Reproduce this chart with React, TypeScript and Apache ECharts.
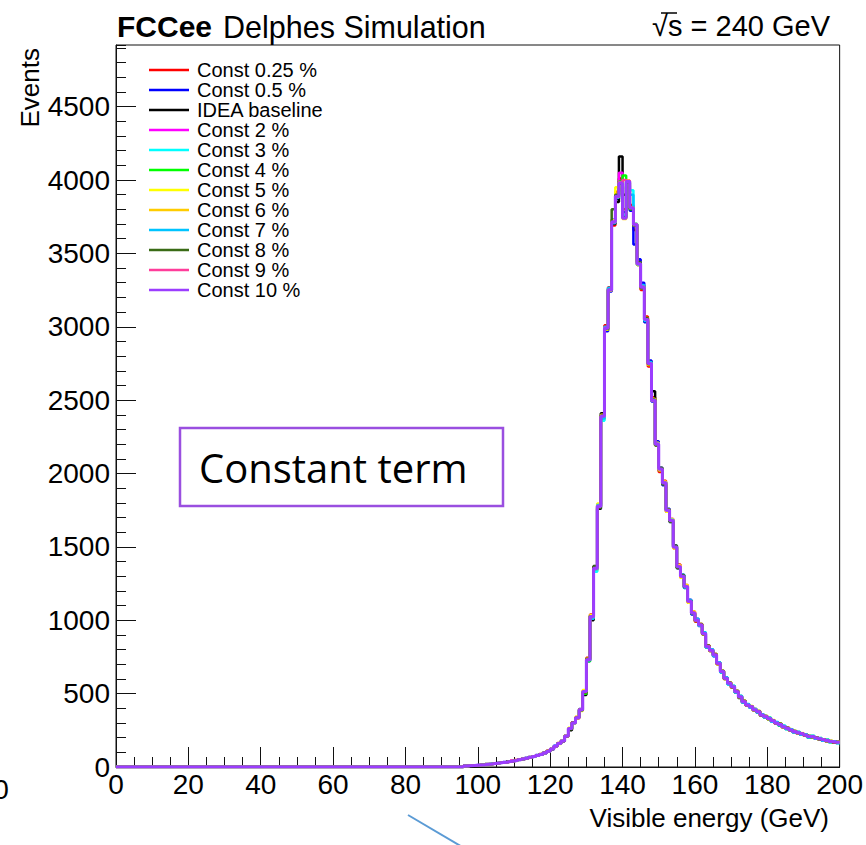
import React, { useEffect, useRef } from "react";
import * as echarts from "echarts";

// Histogram: 1 GeV bins, values listed from bin FIRST_BIN (96 GeV) to 199 GeV; bins below are empty.
const FIRST_BIN = 96;

const seriesNames = [
  "Const 0.25 %", "Const 0.5 %", "IDEA baseline", "Const 2 %", "Const 3 %", "Const 4 %",
  "Const 5 %", "Const 6 %", "Const 7 %", "Const 8 %", "Const 9 %", "Const 10 %",
];
const seriesColors = [
  "#ff0000", "#0000ff", "#000000", "#ff00ff", "#00ffff", "#00ff00",
  "#ffff00", "#ffcc00", "#00c4ff", "#3a6b16", "#ff3d9a", "#9b3dff",
];

const const025 = [
  6, 8, 11, 12, 15, 17, 18, 22, 25, 26,
  31, 34, 36, 42, 47, 49, 56, 62, 65, 74,
  80, 88, 95, 110, 125, 139, 163, 180, 208, 258,
  305, 340, 385, 520, 745, 1040, 1340, 1790, 2370, 3010,
  3270, 3690, 3920, 4010, 3800, 3960, 3830, 3660, 3450, 3250,
  3070, 2730, 2520, 2210, 2010, 1950, 1740, 1690, 1490, 1380,
  1290, 1240, 1120, 1060, 990, 975, 905, 830, 790, 770,
  700, 655, 600, 575, 540, 518, 475, 450, 420, 405,
  395, 372, 358, 340, 333, 312, 303, 287, 278, 260,
  255, 238, 236, 223, 220, 205, 210, 195, 194, 183,
  182, 172, 171, 165,
];
const const05 = [
  8, 9, 10, 13, 13, 17, 19, 20, 25, 28,
  29, 34, 38, 40, 46, 51, 54, 61, 67, 71,
  81, 85, 98, 106, 120, 144, 158, 182, 215, 255,
  298, 338, 395, 505, 720, 1030, 1360, 1760, 2400, 2970,
  3240, 3730, 3870, 3990, 3780, 3970, 3790, 3560, 3460, 3300,
  3030, 2770, 2490, 2220, 2040, 1920, 1760, 1670, 1510, 1355,
  1310, 1220, 1140, 1040, 1010, 960, 915, 815, 800, 755,
  712, 645, 610, 565, 550, 508, 482, 440, 428, 412,
  385, 380, 350, 346, 328, 318, 296, 293, 272, 266,
  250, 244, 231, 228, 215, 210, 204, 200, 190, 187,
  178, 176, 168, 170,
];
const ideaBaseline = [
  7, 10, 10, 11, 14, 15, 20, 21, 23, 28,
  30, 32, 38, 41, 44, 52, 55, 59, 68, 72,
  78, 87, 94, 109, 121, 141, 162, 176, 214, 250,
  302, 332, 392, 490, 735, 1000, 1370, 1760, 2410, 2980,
  3260, 3700, 3850, 4160, 3900, 3950, 3800, 3700, 3420, 3280,
  3040, 2760, 2560, 2190, 2020, 1940, 1755, 1675, 1505, 1360,
  1305, 1225, 1135, 1045, 995, 970, 912, 822, 792, 766,
  704, 652, 603, 572, 544, 515, 470, 447, 425, 408,
  392, 375, 356, 341, 332, 313, 298, 284, 277, 262,
  254, 239, 236, 224, 216, 204, 208, 196, 191, 183,
  181, 173, 169, 167,
];
const const2 = [
  7, 9, 11, 12, 13, 16, 18, 21, 24, 27,
  31, 33, 36, 42, 45, 50, 56, 60, 65, 73,
  80, 86, 97, 107, 123, 140, 159, 179, 211, 264,
  303, 333, 388, 518, 728, 1020, 1350, 1780, 2385, 2995,
  3255, 3720, 3900, 4050, 3750, 3980, 3815, 3690, 3440, 3265,
  3055, 2745, 2505, 2205, 2035, 1930, 1745, 1690, 1495, 1370,
  1295, 1235, 1125, 1055, 1005, 965, 908, 825, 798, 760,
  710, 648, 607, 568, 550, 511, 481, 443, 426, 408,
  392, 374, 356, 341, 332, 313, 302, 288, 277, 262,
  254, 240, 236, 224, 219, 206, 209, 197, 193, 184,
  181, 173, 171, 166,
];
const const3 = [
  7, 9, 10, 12, 14, 16, 19, 22, 24, 27,
  30, 33, 37, 41, 46, 50, 55, 61, 66, 72,
  79, 87, 96, 108, 121, 142, 161, 178, 213, 261,
  299, 336, 391, 514, 732, 1015, 1330, 1770, 2360, 2995,
  3260, 3710, 3880, 3970, 3760, 3985, 3930, 3700, 3435, 3280,
  3045, 2755, 2495, 2205, 2025, 1940, 1745, 1685, 1495, 1370,
  1300, 1230, 1125, 1050, 1005, 970, 912, 818, 797, 768,
  705, 652, 603, 573, 545, 515, 477, 448, 421, 412,
  388, 379, 352, 345, 328, 317, 298, 292, 273, 266,
  250, 243, 232, 228, 216, 209, 205, 200, 190, 187,
  178, 176, 168, 170,
];
const const4 = [
  7, 9, 10, 12, 14, 17, 19, 21, 24, 27,
  30, 33, 37, 41, 45, 50, 55, 60, 66, 72,
  79, 86, 96, 108, 122, 142, 160, 178, 212, 262,
  300, 335, 390, 500, 720, 1030, 1350, 1780, 2395, 2985,
  3255, 3720, 3895, 3990, 4030, 3980, 3800, 3690, 3440, 3275,
  3045, 2755, 2505, 2195, 2035, 1930, 1755, 1675, 1505, 1360,
  1305, 1225, 1135, 1045, 1005, 963, 915, 815, 800, 758,
  712, 645, 610, 565, 552, 508, 484, 440, 428, 405,
  395, 372, 359, 338, 335, 310, 305, 285, 280, 259,
  257, 236, 239, 221, 223, 202, 212, 193, 197, 180,
  185, 169, 175, 163,
];
const const5 = [
  7, 9, 10, 12, 14, 16, 19, 21, 24, 27,
  30, 33, 37, 41, 45, 50, 55, 60, 66, 72,
  78, 85, 97, 109, 124, 140, 157, 183, 215, 268,
  295, 342, 382, 525, 740, 1035, 1345, 1795, 2400, 2980,
  3245, 3725, 3950, 3975, 3745, 3995, 3805, 3700, 3420, 3260,
  3060, 2740, 2510, 2210, 2020, 1945, 1740, 1690, 1490, 1375,
  1290, 1240, 1120, 1060, 995, 975, 905, 825, 790, 770,
  700, 655, 600, 575, 540, 518, 475, 450, 418, 415,
  385, 382, 349, 348, 325, 320, 295, 295, 270, 269,
  247, 246, 229, 231, 213, 212, 202, 203, 187, 190,
  175, 179, 165, 173,
];
const const6 = [
  7, 9, 10, 12, 14, 16, 19, 21, 24, 27,
  30, 33, 37, 41, 45, 50, 55, 60, 66, 72,
  79, 86, 96, 108, 122, 141, 161, 177, 213, 260,
  302, 333, 393, 510, 735, 1020, 1360, 1770, 2385, 2995,
  3255, 3710, 3885, 3985, 3735, 3995, 3815, 3690, 3435, 3275,
  3045, 2755, 2495, 2195, 2035, 1930, 1755, 1675, 1505, 1360,
  1295, 1235, 1128, 1055, 998, 972, 906, 826, 792, 768,
  703, 654, 601, 574, 542, 517, 476, 449, 420, 413,
  387, 380, 351, 346, 327, 318, 297, 293, 272, 267,
  249, 244, 231, 229, 215, 210, 204, 201, 189, 188,
  177, 177, 167, 171,
];
const const7 = [
  7, 9, 10, 12, 14, 16, 19, 21, 24, 27,
  30, 33, 37, 41, 45, 50, 55, 60, 66, 72,
  79, 86, 96, 108, 122, 143, 159, 179, 211, 263,
  298, 337, 389, 512, 728, 1010, 1345, 1785, 2375, 3000,
  3265, 3705, 3880, 3975, 3750, 3990, 3900, 3700, 3425, 3285,
  3040, 2760, 2500, 2205, 2030, 1940, 1750, 1685, 1500, 1365,
  1310, 1222, 1138, 1044, 1008, 962, 918, 814, 802, 757,
  714, 644, 612, 563, 553, 507, 485, 439, 430, 403,
  396, 371, 360, 337, 336, 309, 306, 284, 281, 258,
  258, 235, 240, 220, 224, 201, 213, 192, 198, 179,
  186, 168, 176, 162,
];
const const8 = [
  7, 9, 10, 12, 14, 16, 19, 21, 24, 27,
  30, 33, 37, 41, 45, 50, 55, 60, 66, 72,
  80, 85, 97, 107, 121, 141, 162, 176, 210, 258,
  304, 338, 387, 508, 738, 1028, 1368, 1765, 2395, 2985,
  3250, 3800, 3900, 3975, 3745, 3985, 3805, 3690, 3440, 3260,
  3060, 2745, 2505, 2195, 2040, 1925, 1755, 1670, 1510, 1355,
  1308, 1226, 1132, 1046, 996, 974, 904, 828, 790, 770,
  702, 656, 600, 576, 541, 519, 474, 451, 419, 414,
  386, 381, 350, 347, 326, 319, 296, 294, 271, 268,
  248, 245, 230, 230, 214, 211, 203, 202, 188, 189,
  176, 178, 166, 172,
];
const const9 = [
  7, 9, 10, 12, 14, 16, 19, 21, 24, 27,
  30, 33, 37, 41, 45, 50, 55, 60, 66, 72,
  79, 86, 96, 108, 122, 142, 160, 178, 212, 262,
  300, 335, 392, 512, 730, 1022, 1352, 1778, 2392, 2992,
  3252, 3712, 3885, 3985, 4000, 3995, 3812, 3698, 3428, 3272,
  3052, 2752, 2498, 2202, 2028, 1938, 1748, 1682, 1498, 1368,
  1298, 1232, 1128, 1052, 998, 970, 908, 822, 793, 765,
  705, 652, 603, 572, 545, 515, 477, 447, 421, 412,
  388, 379, 352, 345, 328, 317, 298, 292, 273, 266,
  250, 243, 232, 228, 216, 209, 205, 200, 190, 187,
  178, 176, 168, 170,
];
const const10 = [
  7, 9, 10, 12, 14, 16, 19, 21, 24, 27,
  30, 33, 37, 41, 45, 50, 55, 60, 66, 72,
  79, 86, 96, 108, 122, 142, 160, 178, 212, 262,
  300, 335, 390, 515, 730, 1025, 1355, 1775, 2390, 2990,
  3250, 3715, 3890, 3980, 3740, 3990, 3810, 3695, 3430, 3270,
  3050, 2750, 2500, 2200, 2030, 1935, 1750, 1680, 1500, 1365,
  1300, 1230, 1130, 1050, 1000, 968, 910, 820, 795, 763,
  707, 650, 605, 570, 547, 513, 479, 445, 423, 410,
  390, 377, 354, 343, 330, 315, 300, 290, 275, 264,
  252, 241, 234, 226, 218, 207, 207, 198, 192, 185,
  180, 174, 170, 168,
];

const seriesValues = [
  const025, const05, ideaBaseline, const2, const3, const4,
  const5, const6, const7, const8, const9, const10,
];

const xTicks = { min: 0, max: 200, interval: 20 };
const yTicks = { min: 0, max: 4920, interval: 500, minorInterval: 100 };

const FONT = "'Liberation Sans', Arial, Helvetica, sans-serif";

function histPoints(vals: number[]): number[][] {
  const pts: number[][] = [[xTicks.min, 0]];
  vals.forEach((v, i) => pts.push([FIRST_BIN + i, v]));
  pts.push([FIRST_BIN + vals.length, vals[vals.length - 1]]);
  return pts;
}

export default function App() {
  const ref = useRef<HTMLDivElement>(null);
  useEffect(() => {
    if (!ref.current) return;
    const chart = echarts.init(ref.current, null, { renderer: "svg" });
    const series = seriesNames.map((name, i) => ({
      name,
      type: "line",
      step: "end",
      data: histPoints(seriesValues[i]),
      symbol: "none",
      silent: true,
      clip: true,
      xAxisIndex: 0,
      yAxisIndex: 0,
      lineStyle: { color: seriesColors[i], width: i === 11 ? 3 : 2.5 },
      itemStyle: { color: seriesColors[i] },
      z: 2 + i,
    }));
    chart.setOption({
      animation: false,
      backgroundColor: "#ffffff",
      grid: {
        left: 116,
        right: 24,
        top: 45,
        bottom: 78,
        show: true,
        borderColor: "#111",
        borderWidth: 1,
        backgroundColor: "transparent",
      },
      legend: {
        data: seriesNames,
        orient: "vertical",
        left: 149,
        top: 60,
        padding: 0,
        itemGap: 0,
        itemWidth: 40,
        itemHeight: 2.5,
        icon: "rect",
        selectedMode: false,
        textStyle: {
          fontFamily: FONT,
          fontSize: 20,
          color: "#000",
          lineHeight: 20,
          padding: [0, 0, 0, 3],
        },
      },
      xAxis: {
        type: "value",
        min: xTicks.min,
        max: xTicks.max,
        interval: xTicks.interval,
        axisLine: { show: true, onZero: false, lineStyle: { color: "#111", width: 1 } },
        axisTick: { show: true, inside: true, length: 20, lineStyle: { color: "#111", width: 1 } },
        minorTick: { show: true, splitNumber: 4, length: 10, lineStyle: { color: "#111", width: 1 } },
        splitLine: { show: false },
        axisLabel: { fontFamily: FONT, fontSize: 28, color: "#000", margin: 3, formatter: (v: number) => String(v) },
      },
      yAxis: [
        {
          type: "value",
          min: yTicks.min,
          max: yTicks.max,
          interval: yTicks.interval,
          position: "left",
          axisLine: { show: true, onZero: false, lineStyle: { color: "#111", width: 1 } },
          axisTick: { show: true, inside: true, length: 20, lineStyle: { color: "#111", width: 1 } },
          splitLine: { show: false },
          axisLabel: {
            fontFamily: FONT,
            fontSize: 28,
            color: "#000",
            margin: 6,
            showMaxLabel: false,
            formatter: (v: number) => String(v),
          },
        },
        {
          type: "value",
          min: yTicks.min,
          max: yTicks.max,
          interval: yTicks.minorInterval,
          position: "left",
          offset: 0,
          axisLine: { show: false },
          axisTick: { show: true, inside: true, length: 10, lineStyle: { color: "#111", width: 1 } },
          splitLine: { show: false },
          axisLabel: { show: false },
        },
      ],
      series,
      graphic: [
        {
          type: "text",
          left: 117,
          top: 11,
          style: { text: "FCCee", fontFamily: FONT, fontWeight: "bold", fontSize: 30, fill: "#000" },
          z: 100,
        },
        {
          type: "text",
          left: 223,
          top: 11,
          style: { text: "Delphes Simulation", fontFamily: FONT, fontSize: 30.5, fill: "#000" },
          z: 100,
        },
        {
          type: "text",
          right: 36,
          top: 11,
          style: { text: "√s = 240 GeV", fontFamily: FONT, fontSize: 29, fill: "#000" },
          z: 100,
        },
        {
          type: "line",
          shape: { x1: 661, y1: 13, x2: 677, y2: 13 },
          style: { stroke: "#000", lineWidth: 1.5 },
          z: 100,
        },
        {
          type: "text",
          x: 30,
          y: 48,
          rotation: Math.PI / 2,
          style: {
            text: "Events",
            fontFamily: FONT,
            fontSize: 26,
            fill: "#000",
            align: "right",
            verticalAlign: "middle",
          },
          z: 100,
        },
        {
          type: "text",
          x: 829,
          y: 818,
          style: {
            text: "Visible energy (GeV)",
            fontFamily: FONT,
            fontSize: 26,
            fill: "#000",
            align: "right",
            verticalAlign: "middle",
          },
          z: 100,
        },
        {
          type: "rect",
          shape: { x: 180, y: 428, width: 323, height: 78 },
          style: { fill: "#ffffff", stroke: "#9a4fe0", lineWidth: 2.5 },
          z: 100,
        },
        {
          type: "text",
          x: 199,
          y: 467,
          style: {
            text: "Constant term",
            fontFamily: "'Open Sans', 'Noto Sans', sans-serif",
            fontSize: 40,
            fill: "#000",
            align: "left",
            verticalAlign: "middle",
          },
          z: 101,
        },
        {
          type: "text",
          x: 1,
          y: 789,
          style: {
            text: "0",
            fontFamily: FONT,
            fontSize: 28,
            fill: "#000",
            align: "center",
            verticalAlign: "middle",
          },
          z: 100,
        },
        {
          type: "line",
          shape: { x1: 408, y1: 815, x2: 464, y2: 848 },
          style: { stroke: "#5b9bd5", lineWidth: 2 },
          z: 100,
        },
      ],
    });
    return () => chart.dispose();
  }, []);
  return (
    <div
      ref={ref}
      style={{ position: "fixed", left: 0, top: 0, width: 866, height: 845, background: "#fff" }}
    />
  );
}
